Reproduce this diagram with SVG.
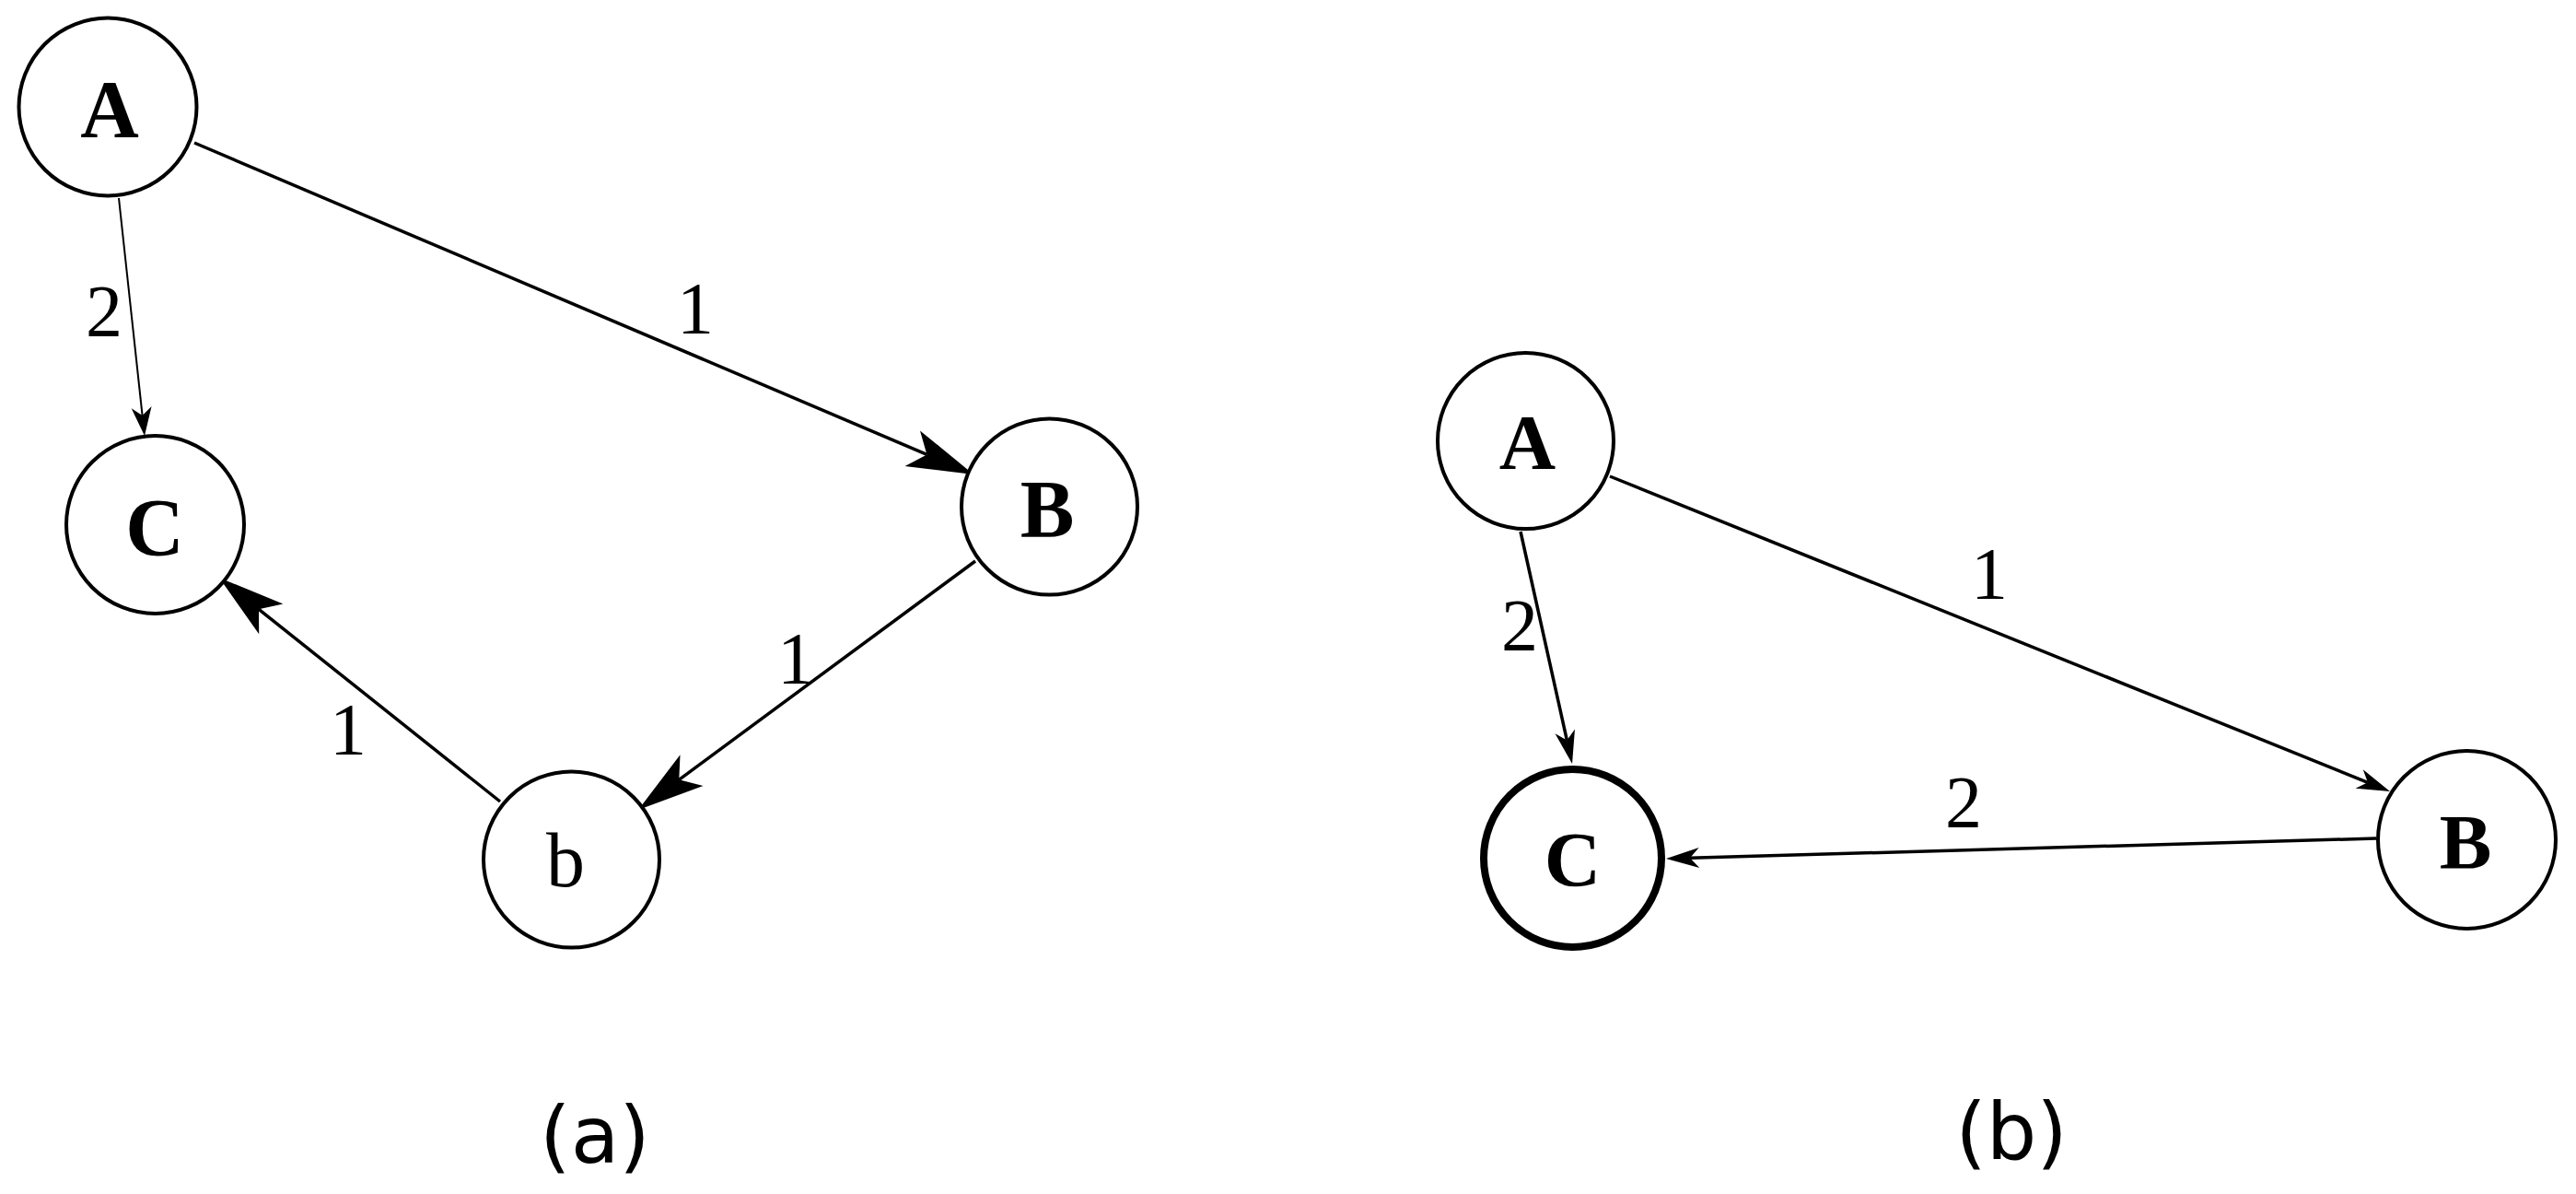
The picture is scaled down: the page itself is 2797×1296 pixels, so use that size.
<svg xmlns="http://www.w3.org/2000/svg" width="2797" height="1296" viewBox="0 0 2797 1296">
<style>
.node{fill:#fff;stroke:#000;stroke-width:4}
.thick{stroke-width:8}
.nl{font-family:"Liberation Serif",serif;font-weight:bold;font-size:88px;text-anchor:middle;fill:#000}
.nr{font-family:"Liberation Serif",serif;font-size:84px;text-anchor:middle;fill:#000}
.el{font-family:"Liberation Serif",serif;font-size:80px;text-anchor:middle;fill:#000}
.sub{font-family:"DejaVu Sans",sans-serif;font-size:86px;text-anchor:middle;fill:#000}
.e{fill:none;stroke:#000;stroke-width:3.5}
.thin{stroke-width:2}
</style>
<defs>
<marker id="big" markerUnits="userSpaceOnUse" orient="auto" overflow="visible" refX="0" refY="0" markerWidth="1" markerHeight="1">
<path d="M55,0 L-17,-21 L0,0 L-17,21 Z" fill="#000"/>
</marker>
<marker id="sa" markerUnits="userSpaceOnUse" orient="auto" overflow="visible" refX="0" refY="0" markerWidth="1" markerHeight="1">
<path d="M22,0 L-9,-11 L0,0 L-9,11 Z" fill="#000"/>
</marker>
<marker id="sb" markerUnits="userSpaceOnUse" orient="auto" overflow="visible" refX="0" refY="0" markerWidth="1" markerHeight="1">
<path d="M26,0 L-10,-11 L0,0 L-10,11 Z" fill="#000"/>
</marker>
</defs>
<rect width="2797" height="1296" fill="#fff"/>
<g id="connectors">
<line class="e thin" x1="129" y1="215" x2="154.6" y2="451.1" marker-end="url(#sa)"/>
<line class="e" x1="211" y1="155" x2="1006.4" y2="493.4" marker-end="url(#big)"/>
<line class="e" x1="1059" y1="609" x2="737.3" y2="846.3" marker-end="url(#big)"/>
<line class="e" x1="543" y1="870" x2="281" y2="661.3" marker-end="url(#big)"/>
<line class="e" x1="1651" y1="577" x2="1701.4" y2="803.6" marker-end="url(#sb)"/>
<line class="e" x1="1748" y1="517" x2="2570.9" y2="849.3" marker-end="url(#sb)"/>
<line class="e" x1="2580" y1="910" x2="1835" y2="931.3" marker-end="url(#sb)"/>
<text class="el" x="113" y="365">2</text>
<text class="el" x="755" y="362">1</text>
<text class="el" x="864" y="742">1</text>
<text class="el" x="378" y="819">1</text>
<text class="el" x="2160" y="650">1</text>
<text class="el" x="1650" y="706">2</text>
<text class="el" x="2132" y="898">2</text>
</g>
<g id="a-A"><circle class="node" cx="117" cy="116" r="96.5"/><text class="nl" x="119" y="148">A</text></g>
<g id="a-C"><circle class="node" cx="168.5" cy="569.5" r="96.5"/><text class="nl" x="168" y="602">C</text></g>
<g id="a-B"><circle class="node" cx="1139.5" cy="550" r="95.5"/><text class="nl" x="1137" y="582">B</text></g>
<g id="a-b"><circle class="node" cx="620.5" cy="933" r="95.5"/><text class="nr" x="614" y="962">b</text></g>
<g id="b-A"><circle class="node" cx="1656.5" cy="478.5" r="95.5"/><text class="nl" x="1658.5" y="509" style="font-size:85px">A</text></g>
<g id="b-C"><circle class="node thick" cx="1707.5" cy="931.5" r="96.5"/><text class="nl" x="1707.5" y="962" style="font-size:85px">C</text></g>
<g id="b-B"><circle class="node" cx="2678.5" cy="911.5" r="96.5"/><text class="nl" x="2677" y="943" style="font-size:85px">B</text></g>
<g id="captions">
<text class="sub" x="646" y="1262">(a)</text>
<text class="sub" x="2184" y="1258">(b)</text>
</g>
</svg>
